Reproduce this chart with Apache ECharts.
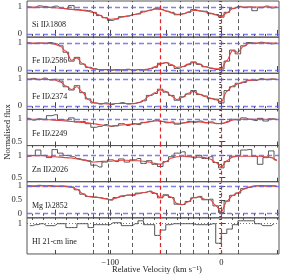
<!DOCTYPE html>
<html><head><meta charset="utf-8">
<script src="https://cdn.jsdelivr.net/npm/echarts@6/dist/echarts.min.js"></script>
<style>html,body{margin:0;padding:0;background:#fff}#c{width:299px;height:276px}</style>
</head><body><div id="c"></div>
<script>
// ---- data ----
const velocity = [-175,-170,-165,-160,-155,-150,-145,-140,-135,-130,-125,-120,-115,-110,-105,-100,-95,-90,-85,-80,-75,-70,-65,-60,-55,-50,-45,-40,-35,-30,-25,-20,-15,-10,-5,0,5,10,15,20,25,30,35,40,45,50];

const siII1808Flux  = [1.0,0.97,1.04,1.02,0.99,1.03,0.96,0.93,1.05,0.9,0.88,0.86,0.8,0.68,0.6,0.5,0.55,0.64,0.66,0.72,0.74,0.84,0.88,0.95,0.91,0.84,0.8,0.71,0.75,0.8,0.9,0.85,0.84,0.75,0.72,0.62,0.8,0.95,1.02,0.98,1.0,0.86,0.97,1.03,0.96,1.0];
const siII1808Model = [1.0,1.0,0.99,0.99,0.98,0.97,0.95,0.93,0.91,0.89,0.87,0.84,0.79,0.70,0.60,0.54,0.56,0.62,0.66,0.70,0.75,0.81,0.87,0.92,0.92,0.86,0.78,0.73,0.73,0.81,0.87,0.86,0.82,0.77,0.70,0.64,0.78,0.93,0.99,1.0,1.0,1.0,1.0,1.0,1.0,1.0];

const feII2586Flux  = [1.01,0.98,1.0,0.99,1.02,0.97,0.9,0.66,0.33,0.47,0.22,0.1,0.05,0.0,0.02,-0.01,0.02,0.0,0.03,-0.02,0.02,0.0,0.05,0.1,0.25,0.27,0.17,0.06,0.13,0.2,0.3,0.21,0.12,0.06,0.02,0.04,0.33,0.74,0.6,0.9,1.02,0.99,1.03,1.0,0.97,1.0];
const feII2586Model = [1,1,1,1,0.99,0.96,0.88,0.7,0.36,0.45,0.24,0.1,0.04,0.02,0.01,0.01,0.01,0.01,0.01,0.01,0.01,0.01,0.04,0.12,0.22,0.28,0.2,0.1,0.12,0.22,0.28,0.23,0.13,0.08,0.05,0.05,0.35,0.72,0.66,0.88,0.99,1,1,1,1,1];

const feII2374Flux  = [1.0,1.03,0.98,1.04,0.97,1.0,0.93,0.72,0.6,0.76,0.5,0.27,0.12,0.08,0.12,0.06,0.1,0.13,0.08,0.1,0.14,0.2,0.4,0.47,0.63,0.52,0.4,0.22,0.35,0.45,0.58,0.43,0.38,0.28,0.26,0.12,0.58,0.72,0.85,0.88,0.97,0.95,1.02,0.98,1.01,0.99];
const feII2374Model = [1,1,1,1,0.99,0.97,0.9,0.75,0.62,0.72,0.52,0.25,0.13,0.1,0.09,0.08,0.1,0.1,0.1,0.09,0.12,0.22,0.38,0.5,0.6,0.55,0.38,0.25,0.32,0.48,0.55,0.45,0.36,0.3,0.24,0.16,0.55,0.75,0.82,0.9,0.95,0.97,0.99,1,1,1];

const feII2249Flux  = [1.02,0.98,1.01,1.0,1.08,1.1,0.99,0.98,1.03,0.94,0.95,0.9,0.82,0.84,0.88,0.84,0.85,0.9,0.86,0.9,0.88,0.93,0.95,0.98,0.95,0.92,0.94,0.89,0.92,0.95,0.93,0.96,0.92,0.94,0.9,0.91,0.95,1.0,0.98,1.03,1.0,0.97,1.02,0.96,1.01,0.99];
const feII2249Model = [1.0,1.0,1.0,0.99,0.99,0.98,0.97,0.96,0.95,0.94,0.93,0.92,0.9,0.88,0.86,0.85,0.86,0.87,0.88,0.89,0.9,0.92,0.94,0.96,0.96,0.94,0.92,0.91,0.91,0.93,0.95,0.94,0.93,0.92,0.91,0.9,0.93,0.98,1.0,1.0,1.0,1.0,1.0,1.0,1.0,1.0];

const znII2026Flux  = [0.98,1.0,1.12,1.0,0.95,1.13,1.05,1.0,0.97,0.93,0.9,0.88,0.78,0.74,0.85,0.9,0.86,0.92,0.85,0.9,0.93,0.82,0.88,0.8,0.75,0.86,0.97,1.05,1.08,0.98,0.94,1.0,0.93,0.97,0.84,0.72,0.86,0.98,1.0,1.12,1.13,0.98,0.8,0.95,1.1,0.9];
const znII2026Model = [0.98,0.99,0.99,0.99,0.98,0.97,0.96,0.95,0.94,0.92,0.9,0.87,0.85,0.86,0.87,0.87,0.88,0.89,0.89,0.88,0.88,0.87,0.85,0.82,0.8,0.86,0.94,0.97,0.98,0.97,0.96,0.96,0.95,0.92,0.84,0.74,0.88,0.96,0.98,0.98,0.98,0.98,0.98,0.97,0.95,0.88];

const mgI2852Flux   = [1.0,0.98,1.02,1.0,1.01,0.98,0.99,0.97,0.96,0.86,0.7,0.62,0.6,0.57,0.54,0.49,0.58,0.62,0.67,0.66,0.74,0.76,0.81,0.73,0.57,0.68,0.58,0.34,0.33,0.44,0.57,0.62,0.5,0.52,0.28,0.04,0.45,0.66,0.74,0.9,0.95,1.0,1.01,0.99,1.0,0.98];
const mgI2852Model  = [1.0,1.0,1.0,1.0,0.99,0.99,0.99,0.99,0.95,0.88,0.72,0.62,0.59,0.58,0.54,0.5,0.56,0.64,0.66,0.68,0.72,0.76,0.8,0.75,0.58,0.66,0.6,0.36,0.32,0.42,0.58,0.6,0.52,0.5,0.3,0.06,0.45,0.65,0.75,0.88,0.96,0.99,1.0,1.0,1.0,0.99];

const hiVelocity = [-172.5,-167.5,-162.5,-157.5,-152.5,-147.5,-142.5,-137.5,-132.5,-127.5,-122.5,-117.5,-112.5,-107.5,-102.5,-97.5,-92.5,-87.5,-82.5,-77.5,-72.5,-67.5,-62.5,-57.5,-52.5,-47.5,-42.5,-37.5,-32.5,-27.5,-22.5,-17.5,-12.5,-7.5,-2.5,2.5,7.5,12.5,17.5,22.5,27.5,32.5,37.5,42.5,47.5];
const hiFlux = [0.98,0.99,1.0,0.98,0.98,1.0,1.0,0.96,0.96,1.0,1.0,0.96,0.99,0.99,0.99,1.01,1.01,0.98,0.98,1.0,1.03,0.99,0.99,0.88,0.935,0.99,1.0,1.0,1.0,1.0,0.99,0.99,0.99,1.0,0.80,0.90,0.945,0.99,1.03,1.03,1.03,1.0,0.98,0.98,1.0];

const componentVelocities = [-115,-102,-80,-37,-25,-12,15];
const mainVelocities = [-55, 0];
const panelLabels = ['Si IIλ1808','Fe IIλ2586','Fe IIλ2374','Fe IIλ2249','Zn IIλ2026','Mg Iλ2852','HI 21-cm line'];
const yTickLabels = [[0,1],[0,1],[0,1],[0.5,1],[0.5,1],[0,0.5,1],[1]];
const xTickLabels = [-100, 0];
const xMajorTicks = [-150,-100,-50,0,50];

// ---- layout ----
const fluxes = [siII1808Flux, feII2586Flux, feII2374Flux, feII2249Flux, znII2026Flux, mgI2852Flux];
const models = [siII1808Model, feII2586Model, feII2374Model, feII2249Model, znII2026Model, mgI2852Model];
const yRanges = [[-0.12,1.22],[-0.12,1.22],[-0.12,1.22],[0.41,1.22],[0.41,1.22],[-0.15,1.15],[0.69,1.06]];
const blueLines = [[0,1],[0,1],[0,1],[1],[1],[0,1],[]];
const L = 27, W = 252, T0 = 1, H = 36.14;
const FONT = '"Liberation Serif", "DejaVu Serif", serif';

const grids = [], xAxes = [], yAxes = [], series = [], graphics = [];
const xMinor = []; for (let v = -170; v <= 50; v += 10) xMinor.push(v);

for (let i = 0; i < 7; i++) {
  const top = T0 + i * H;
  grids.push({left: L, width: W, top: top, height: H, show: true, borderColor: '#555', borderWidth: 1, backgroundColor: 'transparent'});
  const last = i === 6;
  xAxes.push({type: 'value', gridIndex: i, min: -175, max: 52, position: 'bottom',
    axisLine: {show: false}, splitLine: {show: false},
    axisTick: {show: true, inside: true, length: 4, customValues: xMajorTicks, lineStyle: {color: '#444'}},
    axisLabel: {show: last, customValues: xTickLabels, margin: 4, fontSize: 8.5, fontFamily: FONT, color: '#222',
      formatter: v => v < 0 ? '\u2212' + Math.abs(v) : String(v)}});
  xAxes.push({type: 'value', gridIndex: i, min: -175, max: 52, position: 'top',
    axisLine: {show: false}, splitLine: {show: false},
    axisTick: {show: true, inside: true, length: 2, customValues: xMinor, lineStyle: {color: '#444'}},
    axisLabel: {show: false}});
  const [mn, mx] = yRanges[i];
  const step = i === 6 ? 0.05 : 0.1;
  const minorY = [];
  for (let v = Math.ceil(mn / step) * step; v <= mx + 1e-9; v += step) minorY.push(+v.toFixed(3));
  yAxes.push({type: 'value', gridIndex: i, min: mn, max: mx, position: 'left',
    axisLine: {show: false}, splitLine: {show: false},
    axisTick: {show: true, inside: true, length: 4, customValues: yTickLabels[i], lineStyle: {color: '#444'}},
    axisLabel: {show: true, customValues: yTickLabels[i], margin: 5, fontSize: 8.5, fontFamily: FONT, color: '#222',
      formatter: v => String(v)}});
  yAxes.push({type: 'value', gridIndex: i, min: mn, max: mx, position: 'right',
    axisLine: {show: false}, splitLine: {show: false},
    axisTick: {show: true, inside: true, length: 2, customValues: minorY, lineStyle: {color: '#444'}},
    axisLabel: {show: false}});

  const mlData = [];
  componentVelocities.forEach(v => mlData.push({xAxis: v, lineStyle: {color: '#333', type: [4, 3], width: 0.8}}));
  mainVelocities.forEach(v => mlData.push({xAxis: v, lineStyle: {color: '#e02424', type: [4, 3], width: 1.2}}));
  blueLines[i].forEach(y => mlData.push({yAxis: y, lineStyle: {color: '#6060f0', type: [5, 3], width: 1.4, opacity: 0.8}}));
  if (last) mlData.push({yAxis: 1, lineStyle: {color: '#555', type: [1, 2], width: 0.8}});

  if (!last) {
    series.push({type: 'line', xAxisIndex: 2 * i, yAxisIndex: 2 * i, step: 'middle', symbol: 'none', z: 3,
      data: velocity.map((v, k) => [v, fluxes[i][k]]),
      lineStyle: {color: '#444', width: 0.9},
      markLine: {silent: true, symbol: 'none', label: {show: false}, emphasis: {disabled: true}, data: mlData}});
    series.push({type: 'line', xAxisIndex: 2 * i, yAxisIndex: 2 * i, smooth: 0.3, smoothMonotone: 'x', symbol: 'none', z: 4,
      data: velocity.map((v, k) => [v, models[i][k]]),
      lineStyle: {color: '#e8403a', width: 1.1}});
  } else {
    series.push({type: 'line', xAxisIndex: 2 * i, yAxisIndex: 2 * i, step: 'middle', symbol: 'none', z: 3,
      data: hiVelocity.map((v, k) => [v, hiFlux[k]]),
      lineStyle: {color: '#555', width: 1},
      markLine: {silent: true, symbol: 'none', label: {show: false}, emphasis: {disabled: true}, data: mlData}});
  }
  graphics.push({type: 'text', left: 32, top: top + 20, z: 10,
    style: {text: panelLabels[i], font: '8px ' + FONT, fill: '#222'}});
}

graphics.push({type: 'text', x: 8, y: 132, rotation: Math.PI / 2, z: 10,
  style: {text: 'Normalised flux', font: '8.5px ' + FONT, fill: '#222', align: 'center', verticalAlign: 'middle'}});
graphics.push({type: 'text', x: 157, y: 270, z: 10,
  style: {text: 'Relative Velocity (km s\u207B\u00B9)', font: '8.5px ' + FONT, fill: '#222', align: 'center', verticalAlign: 'middle'}});

const chart = echarts.init(document.getElementById('c'), null, {renderer: 'canvas'});
chart.setOption({animation: false, grid: grids, xAxis: xAxes, yAxis: yAxes, series: series, graphic: graphics});
</script>
</body></html>
